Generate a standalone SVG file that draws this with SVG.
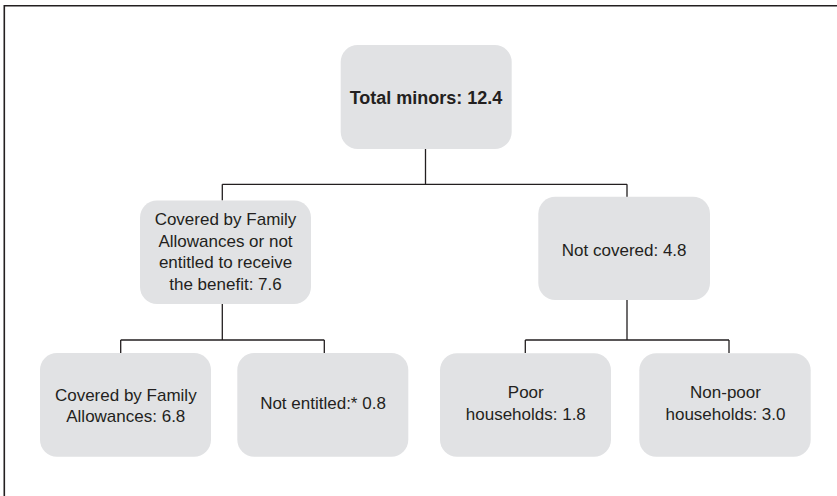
<svg xmlns="http://www.w3.org/2000/svg" width="837" height="496" viewBox="0 0 837 496">
<style>
.box{fill:#e1e2e4}
.t{font-family:"Liberation Sans",Arial,sans-serif;font-size:17px;fill:#231f20;text-anchor:middle}
.b{font-weight:bold;font-size:18px}
.c{fill:none;stroke:#231f20;stroke-width:1.3}
.frame{fill:none;stroke:#231f20;stroke-width:1.6}
</style>
<rect width="837" height="496" fill="#fff"/>
<path class="frame" d="M4.3 496 V5.7 H837"/>
<g id="connectors">
<path class="c" d="M425.5 149 V184.3 M222.3 184.3 H627 M222.3 184.3 V200.5 M627 184.3 V197"/>
<path class="c" d="M222.3 304 V340 M120.7 340 H324.3 M120.7 340 V353 M324.3 340 V353"/>
<path class="c" d="M627 300 V340 M525.3 340 H729 M525.3 340 V353 M729 340 V353"/>
</g>
<g id="total">
<rect class="box" x="340.7" y="45" width="171" height="104" rx="17"/>
<text class="t b" x="426" y="103.8">Total minors: 12.4</text>
</g>
<g id="covered-or-not-entitled">
<rect class="box" x="140" y="200.5" width="171" height="103.5" rx="17"/>
<text class="t" x="225.5" y="225">Covered by Family</text>
<text class="t" x="225.5" y="246.5">Allowances or not</text>
<text class="t" x="225.5" y="268">entitled to receive</text>
<text class="t" x="225.5" y="290">the benefit: 7.6</text>
</g>
<g id="not-covered">
<rect class="box" x="538.3" y="196.7" width="171.7" height="103.3" rx="17"/>
<text class="t" x="624.2" y="255.8">Not covered: 4.8</text>
</g>
<g id="covered-fa">
<rect class="box" x="40" y="353" width="171" height="103.7" rx="17"/>
<text class="t" x="125.8" y="400.5">Covered by Family</text>
<text class="t" x="125.8" y="421.8">Allowances: 6.8</text>
</g>
<g id="not-entitled">
<rect class="box" x="237.3" y="353" width="171" height="103.7" rx="17"/>
<text class="t" x="323" y="409">Not entitled:* 0.8</text>
</g>
<g id="poor">
<rect class="box" x="440" y="353.3" width="171" height="103.4" rx="17"/>
<text class="t" x="525.8" y="397.7">Poor</text>
<text class="t" x="525.8" y="420">households: 1.8</text>
</g>
<g id="non-poor">
<rect class="box" x="639.3" y="353.3" width="171.4" height="103.4" rx="17"/>
<text class="t" x="725.5" y="397.7">Non-poor</text>
<text class="t" x="725.5" y="420">households: 3.0</text>
</g>
</svg>
